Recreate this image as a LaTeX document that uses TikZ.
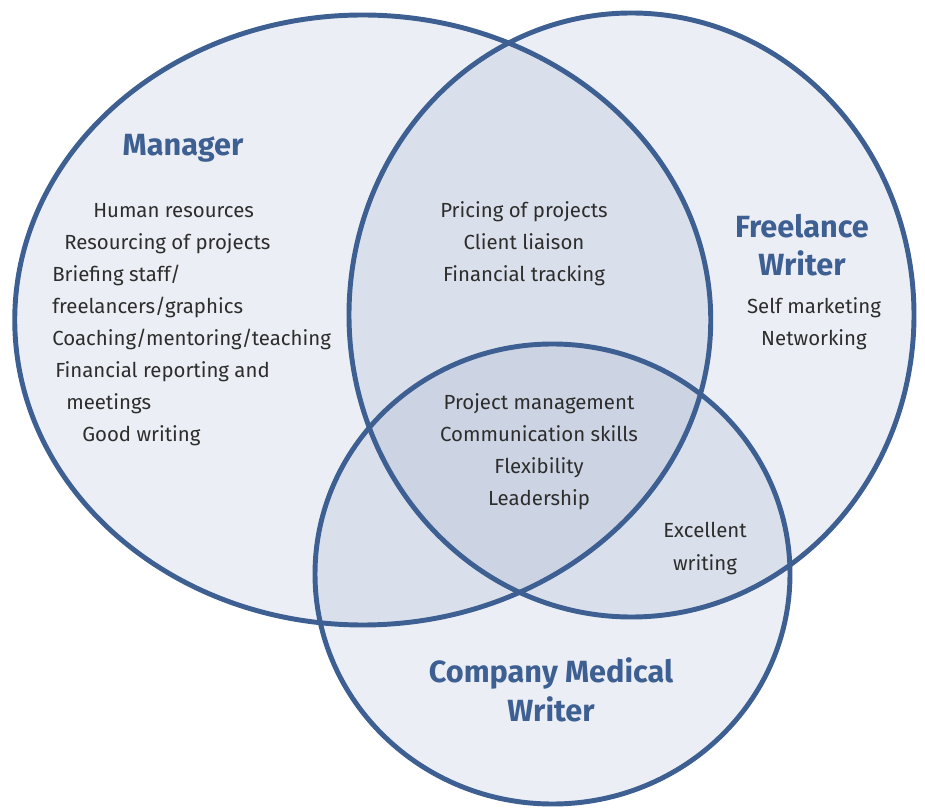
\documentclass[tikz,border=0pt]{standalone}
\usepackage{fontspec}
\setmainfont{Fira Sans}
\definecolor{vennline}{RGB}{62,95,146}
\definecolor{vennfill}{RGB}{122,142,182}
\definecolor{venntext}{RGB}{45,45,45}
\tikzset{
  set/.style={line width=3.7pt, draw=vennline, fill=vennfill, fill opacity=0.15},
  setline/.style={line width=3.7pt, draw=vennline},
  title/.style={font=\fontsize{23}{29}\selectfont\bfseries, text=vennline, align=center},
  item/.style={font=\fontsize{15.3}{17}\selectfont, text=venntext, inner sep=0pt}
}

\begin{document}
\begin{tikzpicture}[x=0.75pt,y=-0.75pt]
		\useasboundingbox (0,0) rectangle (925,812);
		\fill [set,draw=none] (362.75,320) ellipse (348 and 305);
		\fill [set,draw=none] (631.5,315) ellipse (282.5 and 302);
		\fill [set,draw=none] (552.5,574) ellipse (237.5 and 230);
		\draw [setline] (362.75,320) ellipse (348 and 305);
		\draw [setline] (631.5,315) ellipse (282.5 and 302);
		\draw [setline] (552.5,574) ellipse (237.5 and 230);
		\node [title] (manager) at (183,148) {Manager};
		\node [title] (freelance) at (802,245) {Freelance\\Writer};
		\node [title] (company) at (551,690) {Company Medical\\Writer};
		\node [item,anchor=base west] (m1) at (93,218) {Human resources};
		\node [item,anchor=base west] (m2) at (64,250) {Resourcing of projects};
		\node [item,anchor=base west] (m3) at (52,282) {Briefing staff/};
		\node [item,anchor=base west] (m4) at (52,314) {freelancers/graphics};
		\node [item,anchor=base west] (m5) at (52,346) {Coaching/mentoring/teaching};
		\node [item,anchor=base west] (m6) at (55,378) {Financial reporting and};
		\node [item,anchor=base west] (m7) at (66,410) {meetings};
		\node [item,anchor=base west] (m8) at (82,442) {Good writing};
		\node [item,anchor=base] (mf1) at (524,218) {Pricing of projects};
		\node [item,anchor=base] (mf2) at (524,250) {Client liaison};
		\node [item,anchor=base] (mf3) at (524,282) {Financial tracking};
		\node [item,anchor=base] (all1) at (539,410) {Project management};
		\node [item,anchor=base] (all2) at (539,442) {Communication skills};
		\node [item,anchor=base] (all3) at (539,474) {Flexibility};
		\node [item,anchor=base] (all4) at (539,506) {Leadership};
		\node [item,anchor=base] (f1) at (814,314) {Self marketing};
		\node [item,anchor=base] (f2) at (814,346) {Networking};
		\node [item,anchor=base] (fc1) at (705,538) {Excellent};
		\node [item,anchor=base] (fc2) at (705,571) {writing};
	\end{tikzpicture}
\end{document}
